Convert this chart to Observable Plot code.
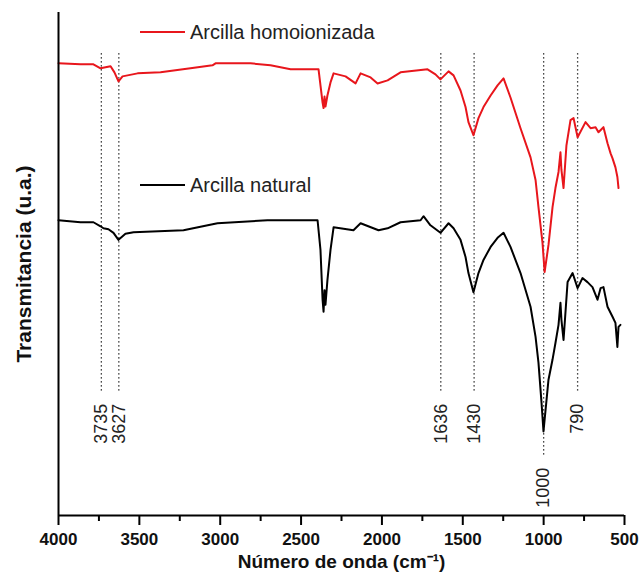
<!DOCTYPE html>
<html>
<head>
<meta charset="utf-8">
<script src="https://cdn.jsdelivr.net/npm/d3@7"></script>
<script src="https://cdn.jsdelivr.net/npm/@observablehq/plot@0.6"></script>
<style>
  html, body { margin: 0; padding: 0; background: #fff; }
  #chart { position: relative; width: 642px; height: 573px; font-family: "Liberation Sans", Arial, sans-serif; }
  .key { position: absolute; display: flex; align-items: center; font-size: 20px; line-height: 22px; color: #222; white-space: nowrap; }
  .key .swatch { display: inline-block; width: 45px; height: 2px; margin-right: 5px; }
</style>
</head>
<body>
<div id="chart"></div>
<script>
// FTIR spectra: wavenumber (cm-1) and transmittance (arbitrary units)
const homoWavenumber = [4000, 3864, 3784, 3740, 3709, 3678, 3654, 3629, 3604, 3511, 3369, 3184, 3048, 3029, 2813, 2689, 2565, 2392, 2380, 2367, 2361, 2355, 2349, 2337, 2318, 2299, 2225, 2163, 2132, 2070, 2027, 1965, 1885, 1718, 1669, 1638, 1588, 1557, 1514, 1483, 1465, 1434, 1403, 1372, 1328, 1285, 1248, 1205, 1143, 1081, 1050, 1032, 1007, 994, 970, 945, 927, 908, 896, 890, 877, 859, 834, 815, 790, 741, 710, 679, 661, 630, 605, 586, 574, 556, 544, 537];
const homoTransmittance = [89.9, 89.7, 89.7, 88.9, 89.1, 89.3, 88.1, 86.3, 87.3, 87.9, 88.1, 88.9, 89.5, 89.9, 89.9, 89.5, 88.7, 88.7, 85.5, 82.1, 81.0, 83.3, 81.3, 83.5, 86.1, 87.9, 87.3, 85.9, 87.9, 87.1, 85.9, 86.5, 88.1, 88.7, 87.7, 86.7, 88.3, 87.5, 84.5, 81.2, 78.2, 75.6, 79.0, 81.2, 83.5, 85.5, 86.9, 83.1, 77.0, 71.2, 66.7, 61.3, 54.2, 48.4, 53.8, 61.3, 65.1, 68.3, 72.2, 68.7, 65.1, 73.6, 78.6, 79.0, 75.2, 78.2, 77.0, 77.2, 76.2, 77.2, 74.0, 72.0, 71.0, 69.2, 67.3, 65.1];

const naturalWavenumber = [4000, 3864, 3784, 3740, 3722, 3691, 3660, 3629, 3586, 3536, 3227, 3017, 2708, 2398, 2380, 2367, 2361, 2355, 2349, 2337, 2318, 2299, 2176, 2132, 2021, 1965, 1885, 1761, 1743, 1700, 1638, 1588, 1557, 1514, 1483, 1465, 1434, 1403, 1372, 1328, 1285, 1248, 1205, 1143, 1081, 1050, 1032, 1013, 1001, 970, 945, 927, 908, 896, 890, 877, 852, 821, 790, 760, 729, 698, 667, 648, 630, 605, 574, 556, 544, 537, 525];
const naturalTransmittance = [58.7, 58.3, 58.3, 57.5, 57.1, 56.9, 56.2, 54.8, 56.0, 56.3, 56.7, 58.1, 58.7, 58.7, 52.8, 42.9, 40.5, 44.8, 41.9, 46.8, 52.8, 57.3, 56.7, 58.1, 56.7, 57.1, 58.3, 58.7, 59.5, 57.7, 56.2, 58.1, 57.1, 54.8, 51.4, 48.2, 44.4, 48.2, 50.8, 53.4, 55.2, 56.2, 53.4, 48.2, 41.5, 35.5, 30.4, 22.4, 16.7, 27.0, 31.0, 34.3, 37.9, 42.3, 38.9, 34.9, 46.4, 48.2, 45.2, 47.2, 46.4, 45.4, 42.9, 45.2, 45.4, 41.5, 39.5, 38.3, 33.5, 37.5, 37.9];

// Marked absorption bands
const bands = [3735, 3627, 1636, 1430, 1000, 790];

// Axis ticks
const majorTicks = [4000, 3500, 3000, 2500, 2000, 1500, 1000, 500];
const minorTicks = [3750, 3250, 2750, 2250, 1750, 1250, 750];

const seriesNames = ["Arcilla homoionizada", "Arcilla natural"];
const seriesColors = ["#e8161c", "#000000"];

const homo = homoWavenumber.map((w, i) => ({w, t: homoTransmittance[i]}));
const natural = naturalWavenumber.map((w, i) => ({w, t: naturalTransmittance[i]}));

// Guide lines run from the top down to just above their labels; the 1000 guide
// goes lower so its label clears the deep Si–O band.
const guideTop = 91.8;
const guideEnd = w => (w === 1000 ? 11.5 : 24.2);
const guides = bands.map(w => ({w, y1: guideTop, y2: guideEnd(w), label: String(w)}));

const font = "Liberation Sans, Arial, sans-serif";

const plot = Plot.plot({
  width: 642,
  height: 573,
  marginLeft: 58,
  marginRight: 18,
  marginTop: 12,
  marginBottom: 58,
  style: {fontFamily: font, background: "#fff", overflow: "visible"},
  x: {domain: [4000, 500], axis: null},
  y: {domain: [0, 100], axis: null},
  marks: [
    Plot.ruleX(guides, {x: "w", y1: "y1", y2: "y2", stroke: "#111", strokeWidth: 1.3, strokeDasharray: "1.3,2.7"}),
    Plot.text(guides, {x: "w", y: "y2", text: "label", rotate: -90, textAnchor: "end", dy: 10, fontSize: 18, fill: "#222", fontFamily: font}),
    Plot.line(homo, {x: "w", y: "t", stroke: seriesColors[0], strokeWidth: 2}),
    Plot.line(natural, {x: "w", y: "t", stroke: seriesColors[1], strokeWidth: 2}),
    Plot.axisX({ticks: minorTicks, tickSize: 6, tickFormat: () => "", strokeWidth: 2, label: null}),
    Plot.axisX({ticks: majorTicks, tickSize: 10, tickPadding: 7, strokeWidth: 2, fontSize: 17, fontWeight: "bold", fill: "#111", label: null, tickFormat: d => String(d)}),
    Plot.ruleY([0], {stroke: "#000", strokeWidth: 2}),
    Plot.ruleX([4000], {stroke: "#000", strokeWidth: 2}),
    Plot.text(["Número de onda (cm⁻¹)"], {frameAnchor: "bottom", lineAnchor: "middle", textAnchor: "middle", dy: 46, fontSize: 19, fontWeight: "bold", fill: "#111", fontFamily: font}),
    Plot.text(["Transmitancia (u.a.)"], {frameAnchor: "left", textAnchor: "middle", lineAnchor: "middle", dx: -34, rotate: -90, fontSize: 21, fontWeight: "bold", fill: "#111", fontFamily: font})
  ]
});

const chart = document.getElementById("chart");
chart.appendChild(plot);

// Legend entries placed inside the plot area
const keyTops = [21, 174];
seriesNames.forEach((name, i) => {
  const key = document.createElement("div");
  key.className = "key";
  key.style.left = "140px";
  key.style.top = keyTops[i] + "px";
  const sw = document.createElement("span");
  sw.className = "swatch";
  sw.style.background = seriesColors[i];
  key.appendChild(sw);
  key.appendChild(document.createTextNode(name));
  chart.appendChild(key);
});
</script>
</body>
</html>
